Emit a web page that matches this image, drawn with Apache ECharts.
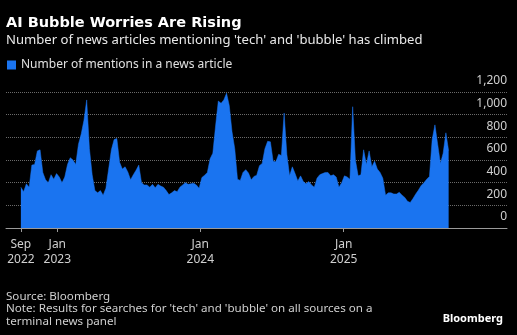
<!DOCTYPE html>
<html>
<head>
<meta charset="utf-8">
<script src="https://cdn.jsdelivr.net/npm/echarts@6/dist/echarts.min.js"></script>
<style>
  html, body { margin: 0; padding: 0; background: #000; }
  #chart { width: 517px; height: 335px; }
</style>
</head>
<body>
<div id="chart"></div>
<script>
// weekly counts, first week ending 30 Sep 2022
const weekStart = Date.UTC(2022, 8, 30);
const weekMs = 7 * 24 * 3600 * 1000;
const mentions = [
    360, 320, 390, 360, 555, 560, 680, 690, 490, 425,
    400, 470, 430, 480, 450, 400, 450, 560, 620, 600,
    560, 740, 830, 950, 1130, 700, 470, 330, 310, 330,
    290, 350, 520, 690, 780, 790, 580, 520, 540, 495,
    425, 470, 510, 555, 400, 380, 380, 360, 385, 355,
    385, 370, 360, 330, 295, 310, 330, 320, 360, 380,
    400, 385, 390, 395, 380, 350, 445, 465, 490, 610,
    660, 900, 1120, 1100, 1130, 1190, 1080, 850, 700, 430,
    420, 490, 515, 485, 425, 455, 465, 550, 570, 700,
    765, 760, 590, 585, 650, 640, 1015, 650, 460, 540,
    480, 415, 460, 410, 390, 410, 380, 360, 440, 470,
    480, 490, 490, 460, 470, 450, 360, 400, 460, 450,
    430, 1070, 600, 460, 470, 690, 560, 680, 540, 590,
    520, 490, 440, 290, 310, 310, 300, 300, 315, 290,
    270, 235, 225, 260, 300, 335, 375, 400, 430, 455,
    780, 910, 740, 570, 660, 840, 680
];

// x-axis ticks and their labels
const tickDates = [weekStart, Date.UTC(2023, 0, 1), Date.UTC(2024, 0, 1), Date.UTC(2025, 0, 1)];
const tickLabels = ['Sep\n2022', 'Jan\n2023', 'Jan\n2024', 'Jan\n2025'];

const seriesName = 'Number of mentions in a news article';
const font = 'Noto Sans';

const initChart = () => {
    var chartDom = document.getElementById('chart');
    var myChart = echarts.init(chartDom, null, { renderer: 'canvas' });
    const points = mentions.map((v, i) => [weekStart + i * weekMs, v]);
    const option = {
        backgroundColor: '#000',
        animation: false,
        textStyle: { fontFamily: font },
        title: [
            {
                text: 'AI Bubble Worries Are Rising',
                left: 6,
                top: 16,
                padding: 0,
                textStyle: { color: '#fff', fontSize: 14.5, fontWeight: 'bold', fontFamily: 'DejaVu Sans' }
            },
            {
                text: "Number of news articles mentioning 'tech' and 'bubble' has climbed",
                left: 6,
                top: 34,
                padding: 0,
                textStyle: { color: '#e8e8e8', fontSize: 13.1, fontWeight: 'normal', fontFamily: font }
            },
            {
                text: "Source: Bloomberg\nNote: Results for searches for 'tech' and 'bubble' on all sources on a\nterminal news panel",
                left: 6,
                top: 290,
                padding: 0,
                textStyle: { color: '#cfcfcf', fontSize: 11.6, lineHeight: 12.7, fontWeight: 'normal', fontFamily: font }
            },
            {
                text: 'Bloomberg',
                right: 14,
                top: 313,
                padding: 0,
                textStyle: { color: '#fff', fontSize: 11, fontWeight: 'bold', fontFamily: font }
            }
        ],
        legend: {
            left: 7,
            top: 59,
            padding: 0,
            icon: 'rect',
            itemWidth: 9,
            itemHeight: 9,
            textStyle: { color: '#e0e0e0', fontSize: 12, fontFamily: font },
            data: [seriesName]
        },
        grid: {
            left: 6,
            right: 10,
            top: 92,
            bottom: 107
        },
        xAxis: {
            type: 'value',
            min: Date.UTC(2022, 7, 23),
            max: Date.UTC(2026, 1, 22),
            axisLine: { lineStyle: { color: '#9a9a9a', width: 1 } },
            axisTick: {
                show: true,
                length: 4,
                customValues: tickDates,
                lineStyle: { color: '#9a9a9a' }
            },
            axisLabel: {
                customValues: tickDates,
                color: '#cfcfcf',
                fontSize: 12,
                lineHeight: 15,
                margin: 9,
                fontFamily: font,
                formatter: (val) => tickLabels[tickDates.indexOf(val)] || ''
            },
            splitLine: { show: false }
        },
        yAxis: {
            type: 'value',
            position: 'right',
            min: 0,
            max: 1200,
            interval: 200,
            axisLine: { show: false },
            axisTick: { show: false },
            axisLabel: {
                inside: true,
                margin: 0,
                showMinLabel: true,
                showMaxLabel: true,
                color: '#cfcfcf',
                fontSize: 12,
                verticalAlign: 'bottom',
                lineHeight: 22,
                fontFamily: font,
                formatter: (v) => v.toLocaleString('en-US')
            },
            splitLine: { lineStyle: { color: '#6a6a6a', type: 'dotted', width: 1 } }
        },
        series: [
            {
                name: seriesName,
                type: 'line',
                data: points,
                showSymbol: false,
                symbol: 'none',
                color: '#1a74f0',
                lineStyle: { width: 0.5, color: '#1a74f0' },
                areaStyle: { color: '#1a74f0', opacity: 1 },
                z: 3
            }
        ]
    };
    myChart.setOption(option);
};
initChart();
</script>
</body>
</html>
